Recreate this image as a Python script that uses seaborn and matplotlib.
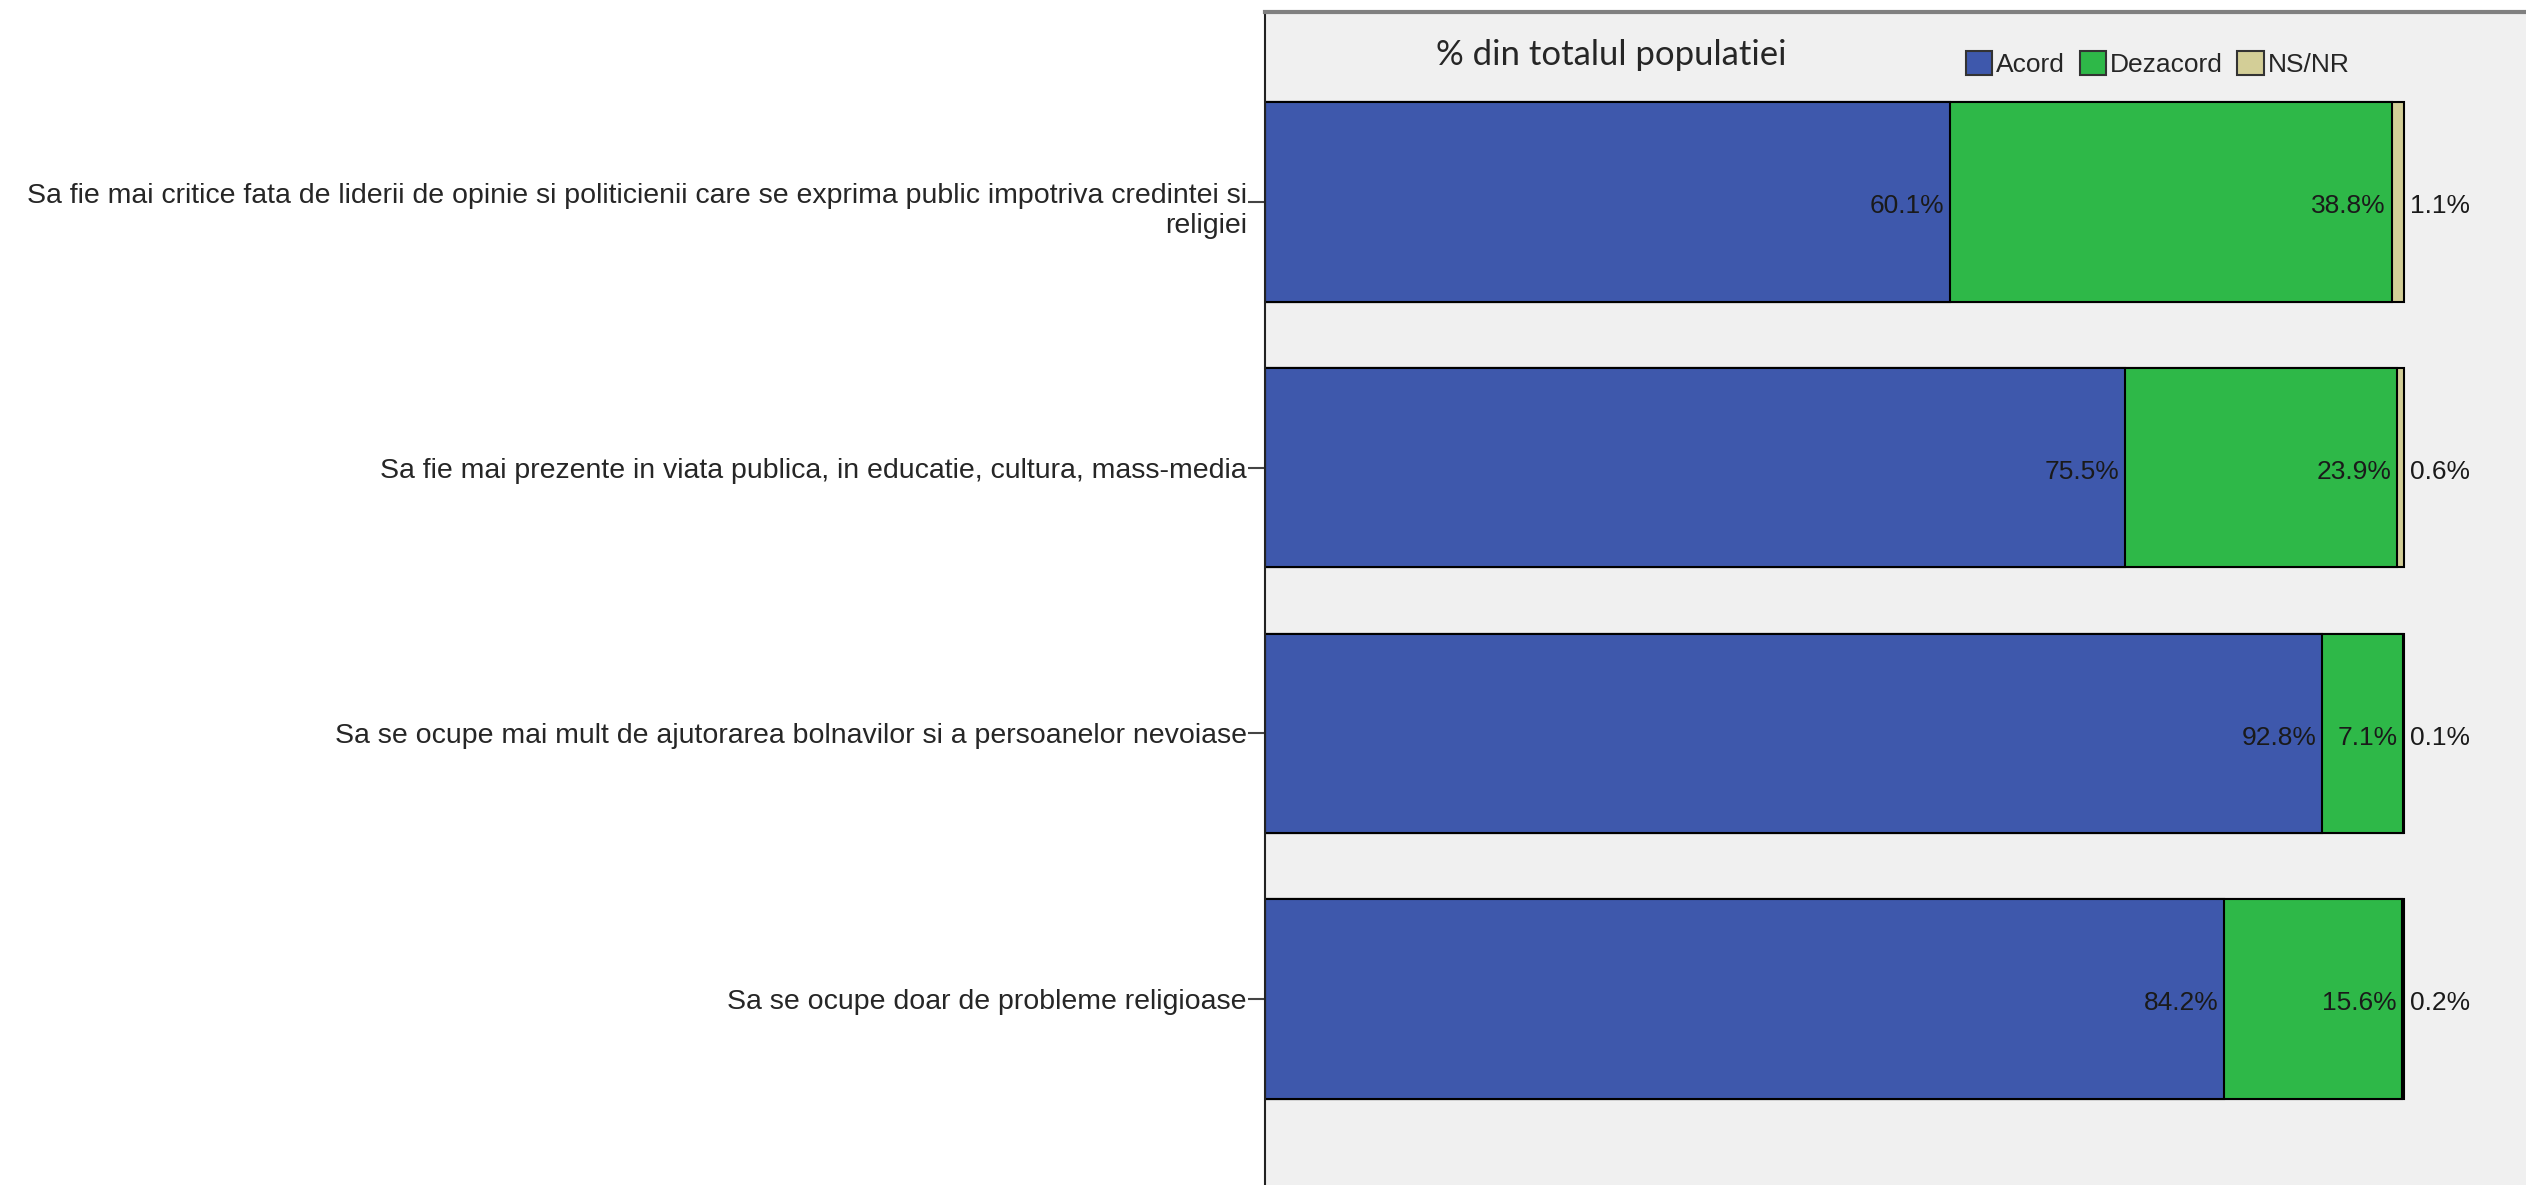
import matplotlib
matplotlib.use("Agg")
import matplotlib.pyplot as plt
import matplotlib.transforms as mtransforms
from matplotlib.patches import Patch
import pandas as pd
import seaborn as sns

# date
intrebari = [
    "Sa fie mai critice fata de liderii de opinie si politicienii care se exprima public impotriva credintei si\nreligiei",
    "Sa fie mai prezente in viata publica, in educatie, cultura, mass-media",
    "Sa se ocupe mai mult de ajutorarea bolnavilor si a persoanelor nevoiase",
    "Sa se ocupe doar de probleme religioase",
]
acord = [60.1, 75.5, 92.8, 84.2]
dezacord = [38.8, 23.9, 7.1, 15.6]
nsnr = [1.1, 0.6, 0.1, 0.2]

culori = {"Acord": "#3E58AC", "Dezacord": "#2EB848", "NS/NR": "#D3CE97"}

df = pd.DataFrame({"Intrebare": intrebari, "Acord": acord, "Dezacord": dezacord, "NS/NR": nsnr})
df["cum_acord"] = df["Acord"]
df["cum_dezacord"] = df["Acord"] + df["Dezacord"]
df["cum_total"] = df["cum_dezacord"] + df["NS/NR"]

sns.set_style("white")
plt.rcParams["font.family"] = ["Liberation Sans", "DejaVu Sans"]

fig = plt.figure(figsize=(25.26, 11.85), dpi=100)
ax = fig.add_axes([1265 / 2526, 0, 1 - 1265 / 2526, 1 - 12 / 1185])
ax.set_facecolor("#F0F0F0")

# bare stivuite: se deseneaza totalurile cumulate, de la cel mai mare
for col, cat in [("cum_total", "NS/NR"), ("cum_dezacord", "Dezacord"), ("cum_acord", "Acord")]:
    sns.barplot(data=df, x=col, y="Intrebare", orient="h", color=culori[cat],
                width=0.75, edgecolor="black", linewidth=1.5, saturation=1, ax=ax)

ax.set_xlim(0, 110.7)
ax.set_ylim(3.70, -0.715)
ax.set_xlabel("")
ax.set_ylabel("")
ax.set_xticks([])

for i, r in df.iterrows():
    ax.annotate(f"{r['Acord']:.1f}%", (r["cum_acord"], i), xytext=(-4, -3), textcoords="offset points",
                ha="right", va="center", fontsize=19, color="#1a1a1a")
    ax.annotate(f"{r['Dezacord']:.1f}%", (r["cum_dezacord"], i), xytext=(-4, -3), textcoords="offset points",
                ha="right", va="center", fontsize=19, color="#1a1a1a")
    ax.annotate(f"{r['NS/NR']:.1f}%", (r["cum_total"], i), xytext=(4, -3), textcoords="offset points",
                ha="left", va="center", fontsize=19, color="#1a1a1a")

ax.tick_params(axis="y", length=12, width=1.5, color="#444444", pad=1, labelsize=20.5, left=True)
for spine in ["right", "bottom"]:
    ax.spines[spine].set_visible(False)
ax.spines["left"].set_color("#222222")
ax.spines["left"].set_linewidth(1.5)
ax.spines["top"].set_color("#808080")
ax.spines["top"].set_linewidth(3)

# eticheta pe doua randuri: primul rand la nivelul tick-ului
lbl = ax.get_yticklabels()[0]
lbl.set_verticalalignment("center_baseline")
lbl.set_multialignment("right")
lbl.set_transform(lbl.get_transform() + mtransforms.ScaledTranslation(0, -0.04, fig.dpi_scale_trans))

fig.text(1611 / 2526, 1 - 55 / 1185, "% din totalul populatiei", ha="center", va="center",
         fontsize=25, family=["Lato", "DejaVu Sans"])

handles = [Patch(facecolor=c, edgecolor="#333333", linewidth=1.5) for c in culori.values()]
fig.legend(handles, list(culori.keys()), loc="center left", bbox_to_anchor=(1966 / 2526, 1 - 64 / 1185),
           ncol=3, frameon=False, handlelength=1.0, handleheight=1.0, handletextpad=0.15,
           columnspacing=0.55, borderpad=0, borderaxespad=0, prop={"size": 19})

fig.savefig("out.png", dpi=100, facecolor="white")
